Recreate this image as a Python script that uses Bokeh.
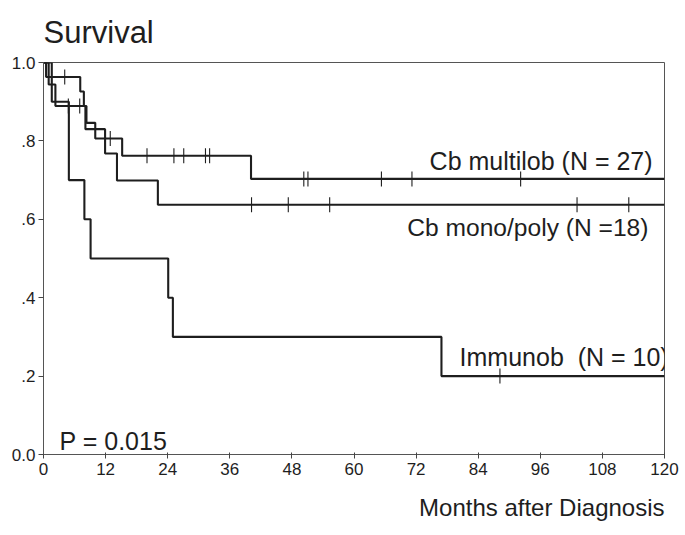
import numpy as np
from bokeh.plotting import figure
from bokeh.models import Range1d, FixedTicker, Label, Title
from bokeh.embed import file_html
from bokeh.resources import INLINE

# ---- data (months, survival) ----
multilob_t = [0, 0.5, 7.1, 7.8, 8.3, 10.0, 15.2, 40.1]
multilob_s = [1.0, 0.963, 0.926, 0.889, 0.846, 0.806, 0.762, 0.703]
multilob_cens = [4.1, 12.9, 20.0, 25.2, 27.1, 31.3, 32.1, 50.3, 51.1, 65.3, 71.2, 92.2]

monopoly_t = [0, 1.0, 2.3, 8.1, 11.9, 14.2, 22.1]
monopoly_s = [1.0, 0.944, 0.889, 0.830, 0.768, 0.699, 0.637]
monopoly_cens = [4.8, 7.0, 40.2, 47.3, 55.3, 103.1, 113.1]

immunob_t = [0, 1.6, 4.9, 7.9, 9.1, 24.1, 25.0, 76.9]
immunob_s = [1.0, 0.9, 0.7, 0.6, 0.5, 0.4, 0.3, 0.2]
immunob_cens = [88.2]

x_ticks = [0, 12, 24, 36, 48, 60, 72, 84, 96, 108, 120]
y_ticks = [0.0, 0.2, 0.4, 0.6, 0.8, 1.0]
y_tick_labels = ["0.0", ".2", ".4", ".6", ".8", "1.0"]

labels = ["Cb multilob (N = 27)", "Cb mono/poly (N =18)", "Immunob\u00a0 (N = 10)"]
p_value_text = "P = 0.015"
title_text = "Survival"
x_title = "Months after Diagnosis"

X_END = 120
FONT = "Liberation Sans"
INK = "#1e1e1e"

p = figure(width=685, height=535, output_backend="svg", toolbar_location=None,
           x_range=Range1d(0, 120), y_range=Range1d(0, 1.0),
           min_border_left=43, min_border_right=21, min_border_top=62, min_border_bottom=81)
p.background_fill_color = "white"
p.border_fill_color = "white"
p.outline_line_color = "#555555"
p.outline_line_width = 1
p.grid.visible = False

p.title.text = title_text
p.title.text_font = FONT
p.title.text_font_size = "31px"
p.title.text_font_style = "normal"
p.title.text_color = INK
p.title.align = "left"
p.title.vertical_align = "top"
p.title.standoff = 22

for ax in (p.xaxis[0], p.yaxis[0]):
    ax.axis_line_color = "#555555"
    ax.axis_line_width = 1
    ax.major_tick_line_color = "#444444"
    ax.minor_tick_line_color = None
    ax.major_label_text_font = FONT
    ax.major_label_text_font_size = "17px"
    ax.major_label_text_color = INK

p.xaxis.ticker = FixedTicker(ticks=x_ticks)
p.xaxis.major_tick_out = 4
p.xaxis.major_tick_in = 2
p.xaxis.major_label_standoff = 4

p.yaxis.ticker = FixedTicker(ticks=y_ticks)
p.yaxis.major_label_overrides = {v: s for v, s in zip(y_ticks, y_tick_labels)}
p.yaxis.major_tick_out = 5
p.yaxis.major_tick_in = 0
p.yaxis.major_label_standoff = 3

xt = Title(text=x_title, align="right", text_font=FONT, text_font_size="24px",
           text_font_style="normal", text_color=INK, standoff=28, vertical_align="bottom")
p.add_layout(xt, "below")


def curve(t, s, cens):
    xs = list(t) + [X_END]
    ys = list(s) + [s[-1]]
    p.step(xs, ys, mode="after", line_color=INK, line_width=2.1)
    ta = np.array(t)
    cy = [s[int(np.searchsorted(ta, c, side="right")) - 1] for c in cens]
    p.scatter(cens, cy, marker="dash", angle=np.pi / 2, size=15,
              line_color=INK, line_width=1.1)


curve(multilob_t, multilob_s, multilob_cens)
curve(monopoly_t, monopoly_s, monopoly_cens)
curve(immunob_t, immunob_s, immunob_cens)


def lab(x, y, text, size, align="left", baseline="alphabetic"):
    p.add_layout(Label(x=x, y=y, text=text, text_font=FONT, text_font_size=size,
                       text_color=INK, text_align=align, text_baseline=baseline))


lab(117.7, 0.750, labels[0], "25px", "right")
lab(116.9, 0.580, labels[1], "24.6px", "right")
lab(80.4, 0.250, labels[2], "25px", "left")
lab(3.1, 0.0, p_value_text, "25px", "left", "bottom")

open("out.html", "w").write(file_html(p, INLINE))
